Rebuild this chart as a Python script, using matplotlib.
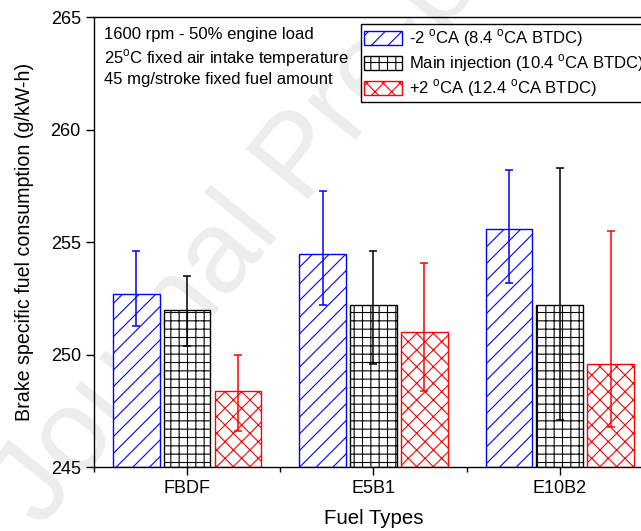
import numpy as np
import matplotlib
matplotlib.use("Agg")
import matplotlib.pyplot as plt

plt.rcParams['font.family'] = ['Liberation Sans', 'DejaVu Sans']
plt.rcParams['mathtext.fontset'] = 'custom'
plt.rcParams['mathtext.rm'] = 'Liberation Sans'
plt.rcParams['hatch.linewidth'] = 0.8

# --- data ---
fuels = ["FBDF", "E5B1", "E10B2"]
labels = ["-2 $^{\\rm o}$CA (8.4 $^{\\rm o}$CA BTDC)",
          "Main injection (10.4 $^{\\rm o}$CA BTDC)",
          "+2 $^{\\rm o}$CA (12.4 $^{\\rm o}$CA BTDC)"]

bsfc_m2 = [252.7, 254.5, 255.6]
bsfc_main = [252.0, 252.2, 252.2]
bsfc_p2 = [248.4, 251.0, 249.6]

# error bars: distance below / above the bar top
err_m2_lo = [1.4, 2.3, 2.4]
err_m2_hi = [1.9, 2.8, 2.6]
err_main_lo = [1.6, 2.6, 5.1]
err_main_hi = [1.5, 2.4, 6.1]
err_p2_lo = [1.8, 2.6, 2.8]
err_p2_hi = [1.6, 3.1, 5.9]

fig = plt.figure(figsize=(6.41, 5.31), dpi=100)
# right edge of the axes runs off the picture, like the reference
ax = fig.add_axes([0.1466, 0.12, 0.872, 0.8475])
ax.set_facecolor('none')

# faint watermark behind everything
fig.text(0.47, 0.70, "Journal Pre-proof", fontsize=84, color='#ededed',
         rotation=51, ha='center', va='center', rotation_mode='anchor', zorder=-5)

x = np.arange(1, len(fuels) + 1)
w = 0.25
off = 0.273

series = [
    (bsfc_m2, err_m2_lo, err_m2_hi, '#0000ff', '//', -off),
    (bsfc_main, err_main_lo, err_main_hi, 'black', '++', 0.0),
    (bsfc_p2, err_p2_lo, err_p2_hi, '#ff0000', 'xx', off),
]

for (vals, lo, hi, col, hat, dx), lab in zip(series, labels):
    ax.bar(x + dx, np.array(vals) - 245, bottom=245, width=w, color='white',
           edgecolor=col, hatch=hat, linewidth=1.0, label=lab, zorder=2)
    ax.errorbar(x + dx, vals, yerr=[lo, hi], fmt='none', ecolor=col,
                elinewidth=1.1, capsize=2.6, capthick=1.1, zorder=3)

ax.set_xlim(0.5, 3.5)
ax.set_ylim(245, 265)
ax.set_xticks(x)
ax.set_xticklabels(fuels)
ax.set_xticks([0.5, 1.5, 2.5, 3.5], minor=True)
ax.set_yticks([245, 250, 255, 260, 265])
ax.tick_params(axis='both', which='major', labelsize=13, direction='out',
               length=6, width=1.0)
ax.tick_params(axis='x', which='minor', direction='out', length=3.5, width=1.0)
for s in ax.spines.values():
    s.set_linewidth(1.0)

ax.set_xlabel("Fuel Types", fontsize=14.7, labelpad=8)
ax.set_ylabel("Brake specific fuel consumption (g/kW-h)", fontsize=14.1, labelpad=12)

ax.text(0.018, 0.978,
        "1600 rpm - 50% engine load\n25$^{\\rm o}$C fixed air intake temperature\n45 mg/stroke fixed fuel amount",
        transform=ax.transAxes, ha='left', va='top', fontsize=12, linespacing=1.3)

leg = ax.legend(loc='upper left', bbox_to_anchor=(0.477, 0.985), fontsize=12,
                frameon=True, fancybox=False, edgecolor='black', framealpha=1,
                handlelength=2.3, handleheight=0.9, handletextpad=0.42,
                borderpad=0.2, labelspacing=0.2, borderaxespad=0)
leg.get_frame().set_linewidth(1.0)

fig.savefig("out.png", dpi=100)
